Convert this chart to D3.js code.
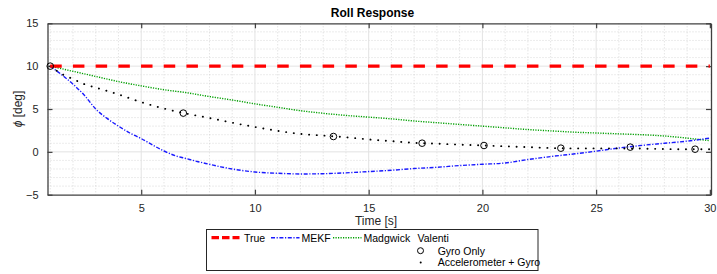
<!DOCTYPE html>
<html>
<head>
<meta charset="utf-8">
<script src="https://cdn.jsdelivr.net/npm/d3@7"></script>
<style>
  body { margin: 0; background: #fff; }
  svg { display: block; font-family: 'Liberation Sans', Arial, sans-serif; }
  .tick text { fill: #262626; font-size: 11px; }
</style>
</head>
<body>
<div id="chart"></div>
<script>
// roll response, phi [deg] over time [s]
const trueX = [1, 30]
const trueY = [10, 10]

const mekfX = [1, 1.5, 2, 2.5, 3, 3.5, 4, 4.5, 5, 5.5, 6, 6.5, 7, 7.5, 8, 8.5, 9, 9.5, 10, 11, 12, 13, 14, 15, 16, 17, 18, 19, 20, 21, 22, 23, 24, 25, 26, 27, 28, 29, 30]
const mekfY = [10, 9.0, 7.9, 6.6, 5.0, 3.9, 3.0, 2.2, 1.55, 0.8, 0.1, -0.45, -0.8, -1.15, -1.45, -1.75, -2.0, -2.2, -2.35, -2.5, -2.58, -2.55, -2.45, -2.3, -2.15, -1.95, -1.8, -1.6, -1.45, -1.3, -0.9, -0.55, -0.25, 0.08, 0.45, 0.75, 1.0, 1.25, 1.6]

const madgX = [1, 2, 3, 4, 5, 6, 7, 8, 9, 10, 11, 12, 13, 14, 15, 16, 17, 18, 19, 20, 21, 22, 23, 24, 25, 26, 27, 28, 29, 30]
const madgY = [10, 9.4, 8.8, 8.2, 7.7, 7.25, 6.9, 6.45, 6.05, 5.6, 5.2, 4.8, 4.5, 4.25, 4.05, 3.85, 3.6, 3.4, 3.2, 3.0, 2.8, 2.6, 2.45, 2.3, 2.2, 2.1, 2.0, 1.85, 1.6, 1.3]

const accX = [1, 1.5, 2, 2.5, 3, 4, 5, 6, 7, 8, 9, 10, 11, 12, 13, 14, 15, 16, 17, 18, 19, 20, 21, 22, 23, 24, 25, 26, 27, 28, 29, 30]
const accY = [10, 9.1, 8.5, 7.9, 7.5, 6.7, 5.8, 5.05, 4.45, 3.95, 3.4, 2.9, 2.45, 2.1, 1.9, 1.7, 1.45, 1.25, 1.05, 0.95, 0.85, 0.75, 0.65, 0.55, 0.45, 0.4, 0.4, 0.4, 0.38, 0.33, 0.3, 0.3]

const gyroX = [1, 6.85, 13.45, 17.35, 20.07, 23.45, 26.5, 29.35]
const gyroY = [10, 4.52, 1.79, 1.01, 0.74, 0.43, 0.55, 0.31]

const xTicks = [5, 10, 15, 20, 25, 30]
const yTicks = [-5, 0, 5, 10, 15]

const W = 717
const H = 274
const margin = { top: 23.3, right: 6, bottom: 79.3, left: 47.5 }
const width = W - margin.left - margin.right
const height = H - margin.top - margin.bottom

const svg = d3.select('#chart').append('svg')
  .attr('width', W)
  .attr('height', H)

const g = svg.append('g')
  .attr('transform', 'translate(' + margin.left + ',' + margin.top + ')')

const xScale = d3.scaleLinear().domain([0.88, 30.05]).range([0, width])
const yScale = d3.scaleLinear().domain([-5, 15]).range([height, 0])

// minor grid (every 1 unit)
const minorX = d3.range(1, 31).filter(d => !xTicks.includes(d))
const minorY = d3.range(-4, 15).filter(d => !yTicks.includes(d))

g.append('g').selectAll('line')
  .data(minorX)
  .enter().append('line')
  .attr('x1', d => xScale(d)).attr('x2', d => xScale(d))
  .attr('y1', 0).attr('y2', height)
  .attr('stroke', '#cfcfcf').attr('stroke-width', 0.8)
  .attr('stroke-dasharray', '1,2')

g.append('g').selectAll('line')
  .data(minorY)
  .enter().append('line')
  .attr('x1', 0).attr('x2', width)
  .attr('y1', d => yScale(d)).attr('y2', d => yScale(d))
  .attr('stroke', '#cfcfcf').attr('stroke-width', 0.8)
  .attr('stroke-dasharray', '1,2')

// major grid
g.append('g').selectAll('line')
  .data(xTicks.filter(d => d < 30))
  .enter().append('line')
  .attr('x1', d => xScale(d)).attr('x2', d => xScale(d))
  .attr('y1', 0).attr('y2', height)
  .attr('stroke', '#e3e3e3').attr('stroke-width', 1)

g.append('g').selectAll('line')
  .data(yTicks.filter(d => d > -5 && d < 15))
  .enter().append('line')
  .attr('x1', 0).attr('x2', width)
  .attr('y1', d => yScale(d)).attr('y2', d => yScale(d))
  .attr('stroke', '#e3e3e3').attr('stroke-width', 1)

// axes
const axisColor = '#404040'
const xAxis = g.append('g')
  .attr('transform', 'translate(0,' + height + ')')
  .call(d3.axisBottom(xScale).tickValues(xTicks).tickSizeInner(-5).tickSizeOuter(0).tickPadding(10))
const xTop = g.append('g')
  .call(d3.axisTop(xScale).tickValues(xTicks).tickSizeInner(-5).tickSizeOuter(0).tickFormat(''))
const yAxis = g.append('g')
  .call(d3.axisLeft(yScale).tickValues(yTicks).tickSizeInner(-5).tickSizeOuter(0).tickPadding(9))
const yRight = g.append('g')
  .attr('transform', 'translate(' + width + ',0)')
  .call(d3.axisRight(yScale).tickValues(yTicks).tickSizeInner(-5).tickSizeOuter(0).tickFormat(''))

;[xAxis, xTop, yAxis, yRight].forEach(a => {
  a.selectAll('path').attr('stroke', axisColor).attr('stroke-width', 1.3)
  a.selectAll('line').attr('stroke', axisColor).attr('stroke-width', 1.2)
})

const zip = (xs, ys) => xs.map((x, i) => ({ x, y: ys[i] }))
const line = d3.line().x(d => xScale(d.x)).y(d => yScale(d.y)).curve(d3.curveMonotoneX)

const plot = g.append('g')

plot.append('path')
  .datum(zip(madgX, madgY))
  .attr('d', line)
  .attr('fill', 'none').attr('stroke', '#00a000').attr('stroke-width', 1.4)
  .attr('stroke-dasharray', '1.2,1.3')

plot.append('path')
  .datum(zip(mekfX, mekfY))
  .attr('d', line)
  .attr('fill', 'none').attr('stroke', '#1a1aff').attr('stroke-width', 1.4)
  .attr('stroke-dasharray', '4,1.6,1.2,1.6')

plot.append('path')
  .datum(zip(accX, accY))
  .attr('d', line)
  .attr('fill', 'none').attr('stroke', '#000').attr('stroke-width', 1.9)
  .attr('stroke-linecap', 'round')
  .attr('stroke-dasharray', '0.1,7.6')

plot.append('path')
  .datum(zip(trueX, trueY))
  .attr('d', line)
  .attr('fill', 'none').attr('stroke', '#ff0000').attr('stroke-width', 3.2)
  .attr('stroke-dasharray', '11.5,11.2')

plot.selectAll('.gyro')
  .data(zip(gyroX, gyroY))
  .enter().append('circle')
  .attr('class', 'gyro')
  .attr('cx', d => xScale(d.x))
  .attr('cy', d => yScale(d.y))
  .attr('r', 3.3)
  .attr('fill', 'none').attr('stroke', '#000').attr('stroke-width', 1)

// titles
svg.append('text')
  .attr('x', 372.5).attr('y', 17)
  .attr('text-anchor', 'middle')
  .attr('font-size', 12).attr('font-weight', 'bold').attr('fill', '#000')
  .text('Roll Response')

svg.append('text')
  .attr('x', 376).attr('y', 225)
  .attr('text-anchor', 'middle')
  .attr('font-size', 12).attr('fill', '#262626')
  .text('Time [s]')

const yLabel = svg.append('text')
  .attr('transform', 'translate(22,109) rotate(-90)')
  .attr('text-anchor', 'middle')
  .attr('font-size', 12).attr('fill', '#262626')
yLabel.append('tspan').attr('font-style', 'italic').text('ϕ')
yLabel.append('tspan').text(' [deg]')

// legend
const legend = svg.append('g').attr('font-size', 10.5).attr('fill', '#000')
legend.append('rect')
  .attr('x', 206.5).attr('y', 229.5)
  .attr('width', 331.5).attr('height', 41)
  .attr('fill', '#fff').attr('stroke', '#262626').attr('stroke-width', 1)

const legendLines = [
  { x0: 211.5, x1: 239.5, tx: 244, label: 'True', stroke: '#ff0000', w: 3.2, dash: '7.5,3' },
  { x0: 271, x1: 299.5, tx: 301.5, label: 'MEKF', stroke: '#1a1aff', w: 1.4, dash: '4,1.6,1.2,1.6' },
  { x0: 333, x1: 361.5, tx: 363.5, label: 'Madgwick', stroke: '#00a000', w: 1.4, dash: '1.2,1.3' }
]
legendLines.forEach(d => {
  legend.append('line')
    .attr('x1', d.x0).attr('x2', d.x1).attr('y1', 237.7).attr('y2', 237.7)
    .attr('stroke', d.stroke).attr('stroke-width', d.w).attr('stroke-dasharray', d.dash)
  legend.append('text').attr('x', d.tx).attr('y', 241.5).text(d.label)
})
legend.append('text').attr('x', 417.5).attr('y', 241.5).text('Valenti')
legend.append('circle')
  .attr('cx', 420.5).attr('cy', 250.7).attr('r', 3)
  .attr('fill', 'none').attr('stroke', '#000').attr('stroke-width', 1)
legend.append('text').attr('x', 437.7).attr('y', 254.5).text('Gyro Only')
legend.append('circle')
  .attr('cx', 420.7).attr('cy', 262.5).attr('r', 1)
  .attr('fill', '#000')
legend.append('text').attr('x', 437.7).attr('y', 266.3).text('Accelerometer + Gyro')
</script>
</body>
</html>
